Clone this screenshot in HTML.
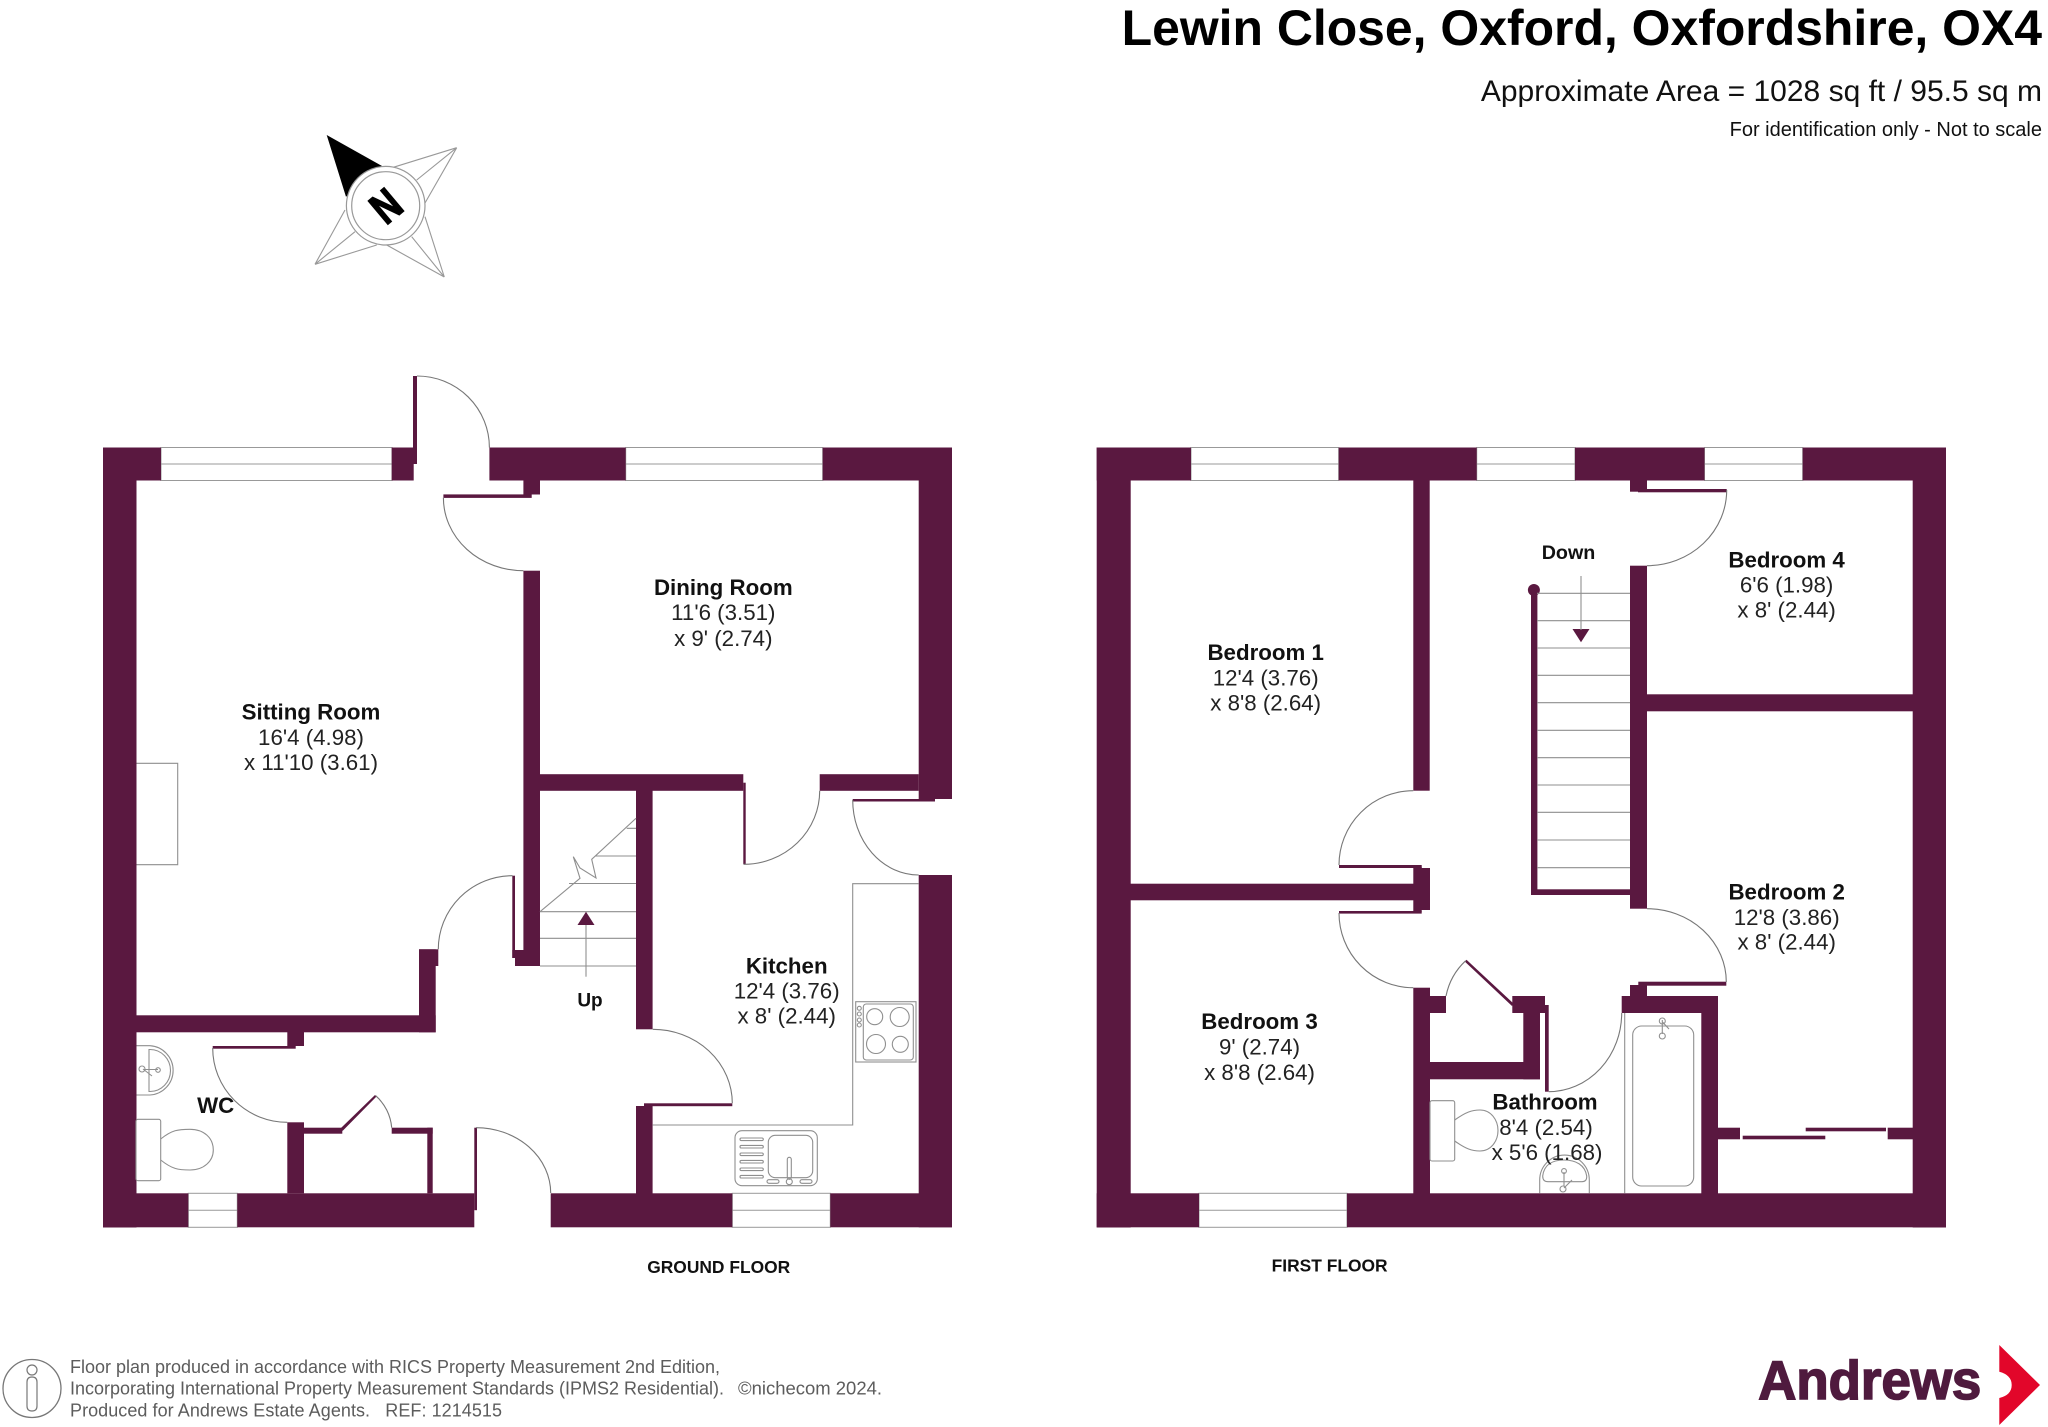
<!DOCTYPE html>
<html lang="en">
<head>
<meta charset="utf-8">
<title>Lewin Close Floor Plan</title>
<style>
html,body{margin:0;padding:0;background:#fff;width:2048px;height:1427px;overflow:hidden}
svg{display:block}
text{font-family:"Liberation Sans",Arial,sans-serif}
.w{fill:#5a1840}
.l{fill:none;stroke:#8f8f8f;stroke-width:1.1}
.f{fill:none;stroke:#8a8088;stroke-width:1.1}
.d{fill:none;stroke:#777;stroke-width:1.1}
.win{fill:#fff;stroke:#999;stroke-width:1}
.b{font-weight:bold;font-size:22.3px;fill:#111;text-anchor:middle}
.r{font-size:22.3px;fill:#222;text-anchor:middle}
.ft{font-size:18px;fill:#5c5c5c}
</style>
</head>
<body>
<svg width="2048" height="1427" viewBox="0 0 2048 1427" xmlns="http://www.w3.org/2000/svg">
<rect width="2048" height="1427" fill="#fff"/>

<!-- Header -->
<text x="2042" y="45" text-anchor="end" font-size="49.9" font-weight="bold" fill="#000">Lewin Close, Oxford, Oxfordshire, OX4</text>
<text x="2042" y="101" text-anchor="end" font-size="30" fill="#111">Approximate Area = 1028 sq ft / 95.5 sq m</text>
<text x="2042" y="136" text-anchor="end" font-size="20" fill="#111">For identification only - Not to scale</text>

<!-- Compass -->
<g>
<polygon points="326.7,135 383.3,166.7 346,196.7" fill="#000"/>
<g class="l" style="stroke:#999">
<path d="M456.7,147.7L393.3,167.3M456.7,147.7L425,203M456.7,147.7L416.7,180"/>
<path d="M444.3,277L425,216.7M444.3,277L386.7,245M444.3,277L411.7,236.7"/>
<path d="M315,264.3L376.7,245M315,264.3L345,210M315,264.3L355,231.7"/>
</g>
<circle cx="385.7" cy="205.7" r="39.3" fill="#fff" stroke="#999" stroke-width="1.2"/>
<circle cx="385.7" cy="205.7" r="34" fill="#fff" stroke="#999" stroke-width="1.2"/>
<text transform="translate(385.7,205.7) rotate(-40) scale(.8,1)" y="15.5" text-anchor="middle" font-size="44" font-weight="bold" fill="#000" stroke="#000" stroke-width="1.6">N</text>
</g>

<!-- GROUND FLOOR: windows -->
<g class="win">
<rect x="161" y="447.5" width="231" height="33"/><path d="M161,464H392"/>
<rect x="625.7" y="447.5" width="197" height="33"/><path d="M625.7,464H822.7"/>
<rect x="188.3" y="1193.3" width="49" height="34"/><path d="M188.3,1210.3H237.3"/>
<rect x="732.3" y="1193.3" width="98" height="34"/><path d="M732.3,1210.3H830.3"/>
<rect x="1191" y="447.5" width="147.7" height="33"/><path d="M1191,464H1338.7"/>
<rect x="1476.7" y="447.5" width="98.3" height="33"/><path d="M1476.7,464H1575"/>
<rect x="1704.5" y="447.5" width="98.2" height="33"/><path d="M1704.5,464H1802.7"/>
<rect x="1199" y="1193.3" width="148" height="34"/><path d="M1199,1210.3H1347"/>
</g>

<!-- GROUND FLOOR: walls -->
<g class="w">
<rect x="103" y="447.5" width="58" height="33"/>
<rect x="391.7" y="447.5" width="22" height="33"/>
<rect x="413" y="376" width="4" height="88"/>
<rect x="489.4" y="447.5" width="136.3" height="33"/>
<rect x="822.7" y="447.5" width="129.3" height="33"/>
<rect x="523.4" y="480" width="16.6" height="14.5"/>
<rect x="443.4" y="494.4" width="88.3" height="3.5"/>
<rect x="103" y="447.5" width="33.5" height="780"/>
<rect x="918.7" y="447.5" width="33.3" height="351.5"/>
<rect x="918.7" y="875" width="33.3" height="352.3"/>
<rect x="852.7" y="799" width="82.3" height="2.5"/>
<rect x="103" y="1193.3" width="85.3" height="34"/>
<rect x="237.3" y="1193.3" width="237" height="34"/>
<rect x="550.7" y="1193.3" width="181.6" height="34"/>
<rect x="830.3" y="1193.3" width="121.7" height="34"/>
<rect x="474.3" y="1127.7" width="2.7" height="82.5"/>
<!-- interior -->
<rect x="523.4" y="570.7" width="16.6" height="395.3"/>
<rect x="512.3" y="875.7" width="2.7" height="82.3"/>
<rect x="512.3" y="950" width="11.2" height="8"/>
<rect x="515" y="950" width="9" height="16"/>
<rect x="540" y="774.2" width="203.3" height="16.6"/>
<rect x="743.3" y="782.7" width="2.4" height="81.6"/>
<rect x="819.7" y="774.2" width="99" height="16.6"/>
<rect x="636" y="790" width="16.6" height="239.3"/>
<rect x="636" y="1106" width="16.6" height="88"/>
<rect x="644" y="1103.3" width="88.3" height="2.9"/>
<rect x="136" y="1015.3" width="299.7" height="17"/>
<rect x="419" y="949.3" width="16.7" height="83"/>
<rect x="419" y="949.3" width="19.3" height="16.7"/>
<rect x="287.3" y="1030" width="16.7" height="16"/>
<rect x="212.7" y="1046" width="83" height="2.7"/>
<rect x="287.3" y="1122.3" width="16.7" height="71"/>
<rect x="304" y="1127.7" width="38.3" height="6"/>
<rect x="391.7" y="1127.7" width="41" height="6"/>
<rect x="427.3" y="1127.7" width="5.4" height="65.6"/>
<polygon points="341,1128 375,1095 376.5,1096.5 342.5,1131" />
</g>
<!-- GROUND FLOOR: door arcs -->
<g class="d">
<path d="M417,376A72.4,71.5 0 0 1 489.4,447.5"/>
<path d="M443.4,497.7A80,73 0 0 0 523.4,570.7"/>
<path d="M743.7,864.3A76,73.6 0 0 0 819.7,790.7"/>
<path d="M852.7,800A66,75 0 0 0 918.7,875"/>
<path d="M512.5,875.7A74.2,73.6 0 0 0 438.3,949.3"/>
<path d="M732.3,1103.3A79.6,74 0 0 0 652.7,1029.3"/>
<path d="M476,1127.7A74.7,65.3 0 0 1 550.7,1193"/>
<path d="M212.7,1048A74.6,74.3 0 0 0 287.3,1122.3"/>
<path d="M375.7,1095.7A48,48 0 0 1 391.7,1127.7"/>
</g>
<!-- GROUND FLOOR: fittings -->
<g class="l">
<path d="M136.5,763.3H177.7V864.7H136.5"/>
<!-- stairs -->
<path d="M626.7,828.3H636M595,856H636M569,883.5H636M540,911.7H636M540,938.3H636M540,966H636"/>
<path d="M636,818.3L591.7,859.3L596,878L580,868L573.3,856.7L580,878.3L540,911.7"/>
<path d="M586,976.7V925"/>
<!-- kitchen worktop -->
<path d="M652.7,1125H852.7V883.7H918.7"/>
<!-- hob -->
<rect x="855.7" y="1001.7" width="60.3" height="60.3"/>
<rect x="863.3" y="1004" width="50" height="56" rx="3"/>
<circle cx="874.7" cy="1016.7" r="8"/><circle cx="899.7" cy="1017" r="9.5"/>
<circle cx="876" cy="1044" r="9.5"/><circle cx="900.3" cy="1044.3" r="8"/>
<circle cx="859.3" cy="1008.3" r="2"/><circle cx="859.3" cy="1014" r="2"/><circle cx="859.3" cy="1020" r="2"/><circle cx="859.3" cy="1025" r="2"/>
<!-- sink -->
<rect x="735" y="1130.7" width="82.3" height="55" rx="7"/>
<rect x="768.3" y="1135.3" width="44.4" height="42.4" rx="7"/>
<rect x="740" y="1138" width="23.3" height="2.6" rx="1.3"/><rect x="740" y="1145.4" width="23.3" height="2.6" rx="1.3"/>
<rect x="740" y="1153" width="23.3" height="2.6" rx="1.3"/><rect x="740" y="1160.4" width="23.3" height="2.6" rx="1.3"/>
<rect x="740" y="1168" width="23.3" height="2.6" rx="1.3"/><rect x="740" y="1175.4" width="23.3" height="2.6" rx="1.3"/>
<rect x="787.3" y="1157.3" width="4" height="22" rx="2"/>
<circle cx="789.3" cy="1181.7" r="3"/>
<rect x="767" y="1179.7" width="12" height="3.6" rx="1.8"/><rect x="800" y="1179.7" width="12" height="3.6" rx="1.8"/>
<!-- WC basin -->
<path d="M136.5,1045.7H150A24.7,24.7 0 0 1 150,1095H136.5"/>
<path d="M150,1049.5H149V1091.5H150A20.5,21 0 0 0 150,1049.5Z"/>
<path d="M143,1069L152,1076M144,1069.5H158"/>
<circle cx="158" cy="1070" r="2.3"/><circle cx="142" cy="1069" r="3"/>
<!-- WC toilet -->
<rect x="136" y="1119.3" width="24.7" height="61.4" rx="2"/>
<path d="M160.7,1139C172,1130 178,1129.3 190,1129.3C204,1129.3 213.3,1138 213.3,1150C213.3,1161 204,1170 190,1170C178,1170 172,1169 160.7,1160"/>
</g>
<polygon points="586,911.7 594.5,925 577.5,925" class="w"/>

<!-- FIRST FLOOR: walls -->
<g class="w">
<rect x="1096.7" y="447.5" width="94.3" height="33"/>
<rect x="1338.7" y="447.5" width="138" height="33"/>
<rect x="1575" y="447.5" width="129.5" height="33"/>
<rect x="1802.7" y="447.5" width="143.3" height="33"/>
<rect x="1096.7" y="447.5" width="34" height="780"/>
<rect x="1912.7" y="447.5" width="33.3" height="780"/>
<rect x="1096.7" y="1193.3" width="102.3" height="34"/>
<rect x="1347" y="1193.3" width="599" height="34"/>
<rect x="1413.3" y="480" width="16.4" height="310.7"/>
<rect x="1339" y="865" width="82.7" height="3"/>
<rect x="1413.3" y="866.7" width="8.4" height="45"/>
<rect x="1421" y="868" width="9" height="42"/>
<rect x="1130" y="883.7" width="284" height="16.6"/>
<rect x="1339" y="911" width="82.7" height="2.6"/>
<rect x="1413.3" y="987.7" width="16.7" height="206"/>
<rect x="1430" y="996" width="16" height="17"/>
<rect x="1512.3" y="996" width="32.7" height="17"/>
<rect x="1523.3" y="1010" width="16.7" height="69.3"/>
<rect x="1430" y="1062" width="110" height="17.3"/>
<rect x="1545" y="1005" width="3.7" height="86.7"/>
<polygon points="1465,961.7 1466.5,959.7 1513.5,1003.5 1512,1006"/>
<rect x="1621.7" y="996" width="96.3" height="17"/>
<rect x="1630" y="985" width="17" height="12"/>
<rect x="1638.3" y="981.7" width="88" height="4"/>
<rect x="1701.3" y="996" width="16.7" height="198"/>
<rect x="1630" y="480" width="17" height="11.7"/>
<rect x="1638" y="489" width="88.7" height="3.3"/>
<rect x="1630" y="565.7" width="17" height="343"/>
<rect x="1647" y="694.3" width="266" height="17"/>
<rect x="1531" y="590" width="6.4" height="305"/>
<rect x="1531" y="889.3" width="99" height="5.7"/>
<circle cx="1533.9" cy="590" r="6"/>
<rect x="1718" y="1127.7" width="22" height="11.6"/>
<rect x="1887.7" y="1127.7" width="25.3" height="11.6"/>
<rect x="1742.7" y="1135.7" width="82.6" height="3.6"/>
<rect x="1805.7" y="1127.7" width="80.3" height="3.6"/>
<polygon points="1581,642.3 1572.5,629 1589.5,629"/>
</g>
<g class="d">
<path d="M1413.3,790.7A74.3,74.3 0 0 0 1339,865"/>
<path d="M1339,913A74.3,74.7 0 0 0 1413.3,987.7"/>
<path d="M1446,996A66,66 0 0 1 1465.7,960.7"/>
<path d="M1548.7,1091.7A73,78.7 0 0 0 1621.7,1013"/>
<path d="M1726.3,982A79.3,73.3 0 0 0 1647,908.7"/>
<path d="M1726.7,490A79.7,75.7 0 0 1 1647,565.7"/>
</g>
<g class="l">
<path d="M1537,593.3H1630M1537,620.7H1630M1537,648H1630M1537,675.3H1630M1537,702.7H1630M1537,730.3H1630M1537,757.7H1630M1537,785H1630M1537,812.3H1630M1537,840H1630M1537,867.7H1630"/>
<path d="M1581,576V630"/>
<!-- bath -->
<path d="M1624.7,1013V1193.3"/>
<rect x="1632.7" y="1026" width="61" height="160" rx="9"/>
<path d="M1662.3,1020V1034"/><path d="M1662.5,1022L1669,1029"/>
<circle cx="1662.3" cy="1021" r="3"/><circle cx="1662.3" cy="1036" r="3"/>
<!-- bathroom toilet -->
<rect x="1430" y="1100.7" width="24.7" height="60.3" rx="2"/>
<path d="M1454.7,1120C1466,1112 1472,1110 1480,1110C1491,1110 1498,1120 1498,1130.5C1498,1141 1491,1151 1480,1151C1472,1151 1466,1149 1454.7,1141"/>
<!-- bathroom basin -->
<path d="M1539.7,1193.3V1180A24.8,25 0 0 1 1589.3,1180V1193.3"/>
<path d="M1542.7,1176C1544,1165 1552,1160 1564,1160C1576,1160 1585,1165 1586.7,1176Q1587,1181.7 1582,1181.7H1548Q1542.7,1181.7 1542.7,1176Z"/>
<path d="M1564,1172V1186M1564,1188L1572,1180"/>
<circle cx="1564" cy="1171" r="2.4"/><circle cx="1563" cy="1189" r="3"/>
</g>

<!-- Labels -->
<text class="b" x="311" y="719.3">Sitting Room</text>
<text class="r" x="311" y="745">16'4 (4.98)</text>
<text class="r" x="311" y="770">x 11'10 (3.61)</text>

<text class="b" x="723.3" y="595">Dining Room</text>
<text class="r" x="723.3" y="620">11'6 (3.51)</text>
<text class="r" x="723.3" y="646">x 9' (2.74)</text>

<text class="b" x="786.7" y="973.3">Kitchen</text>
<text class="r" x="786.7" y="998.3">12'4 (3.76)</text>
<text class="r" x="786.7" y="1023.3">x 8' (2.44)</text>

<text class="b" x="215.7" y="1113">WC</text>
<text x="590" y="1006.7" text-anchor="middle" font-size="19" font-weight="bold" fill="#111">Up</text>
<text x="718.7" y="1273" text-anchor="middle" font-size="17.4" font-weight="bold" fill="#111">GROUND FLOOR</text>

<text class="b" x="1265.7" y="660">Bedroom 1</text>
<text class="r" x="1265.7" y="685.7">12'4 (3.76)</text>
<text class="r" x="1265.7" y="710.7">x 8'8 (2.64)</text>

<text class="b" x="1259.5" y="1029">Bedroom 3</text>
<text class="r" x="1259.5" y="1054.5">9' (2.74)</text>
<text class="r" x="1259.5" y="1080">x 8'8 (2.64)</text>

<text class="b" x="1786.6" y="567.3">Bedroom 4</text>
<text class="r" x="1786.6" y="592.3">6'6 (1.98)</text>
<text class="r" x="1786.6" y="617.7">x 8' (2.44)</text>

<text class="b" x="1786.7" y="899.3">Bedroom 2</text>
<text class="r" x="1786.7" y="925">12'8 (3.86)</text>
<text class="r" x="1786.7" y="949.3">x 8' (2.44)</text>

<text class="b" x="1545" y="1109.3">Bathroom</text>
<text class="r" x="1546" y="1135">8'4 (2.54)</text>
<text class="r" x="1547" y="1160">x 5'6 (1.68)</text>

<text x="1568.5" y="559" text-anchor="middle" font-size="19.7" font-weight="bold" fill="#111">Down</text>
<text x="1329.6" y="1271.5" text-anchor="middle" font-size="17.4" font-weight="bold" fill="#111">FIRST FLOOR</text>

<!-- Footer -->
<circle cx="32" cy="1388.5" r="29" fill="none" stroke="#777" stroke-width="1.3"/>
<circle cx="32" cy="1370" r="5" fill="none" stroke="#777" stroke-width="1.2"/>
<path d="M27,1382Q27,1377 32,1377Q37,1377 37,1382V1406Q37,1411 32,1411Q27,1411 27,1406Z" fill="none" stroke="#777" stroke-width="1.2"/>
<text class="ft" x="70" y="1373" textLength="650" lengthAdjust="spacingAndGlyphs">Floor plan produced in accordance with RICS Property Measurement 2nd Edition,</text>
<text class="ft" x="70" y="1394.5" textLength="654" lengthAdjust="spacingAndGlyphs">Incorporating International Property Measurement Standards (IPMS2 Residential).</text>
<text class="ft" x="738" y="1394.5" textLength="144" lengthAdjust="spacingAndGlyphs">©nichecom 2024.</text>
<text class="ft" x="70" y="1416.5" textLength="432" lengthAdjust="spacing" xml:space="preserve">Produced for Andrews Estate Agents.   REF: 1214515</text>

<!-- Logo -->
<text x="1758.3" y="1399" font-size="55" font-weight="bold" fill="#4f1a3e" stroke="#4f1a3e" stroke-width="1.6" textLength="223" lengthAdjust="spacingAndGlyphs">Andrews</text>
<path d="M1999.3,1345L2040,1385L1999.3,1425V1398Q2011.7,1395 2011.7,1385Q2011.7,1375 1999.3,1371.7Z" fill="#e2062a"/>
</svg>
</body>
</html>
